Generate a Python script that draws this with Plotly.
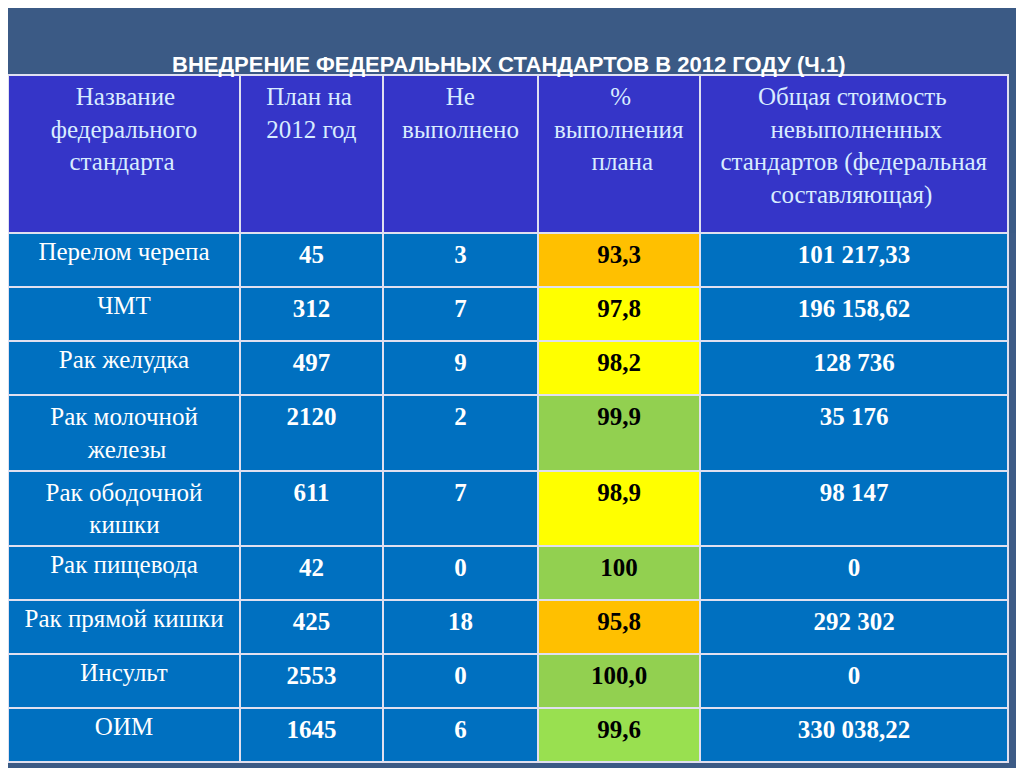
import plotly.graph_objects as go

S = "\u00a0"
headers = [S*4 + "Название<br>федерального<br>" + S*3 + "стандарта",
           "План на<br>2012 год",
           S*7 + "Не<br>выполнено",
           S*9 + "%<br>выполнения<br>" + S*6 + "плана",
           S*6 + "Общая стоимость<br>" + S*8 + "невыполненных<br>стандартов (федеральная<br>" + S*8 + "составляющая)"]
names = ["Перелом черепа", "ЧМТ", "Рак желудка", "Рак молочной<br>" + S*6 + "железы",
         "Рак ободочной<br>" + S*7 + "кишки",
         "Рак пищевода", "Рак прямой кишки", "Инсульт", "ОИМ"]
plan = ["45", "312", "497", "2120", "611", "42", "425", "2553", "1645"]
not_done = ["3", "7", "9", "2", "7", "0", "18", "0", "6"]
percent = ["93,3", "97,8", "98,2", "99,9", "98,9", "100", "95,8", "100,0", "99,6"]
cost = ["101 217,33", "196 158,62", "128 736", "35 176", "98 147", "0", "292 302", "0", "330 038,22"]
pct_colors = ["#FFC000", "#FFFF00", "#FFFF00", "#92D050", "#FFFF00", "#92D050", "#FFC000", "#92D050", "#99E050"]

blue = "#0070C0"
n = len(names)
fig = go.Figure(go.Table(
    domain=dict(x=[0, 1000/1024], y=[0, 701/768]),
    columnwidth=[232, 143, 155, 162, 308],
    header=dict(values=headers, fill_color="#3535C8", line=dict(color="#E0E0F0", width=2),
                align="center", height=158,
                font=dict(family="Liberation Serif", size=25, color="#D8ECFF")),
    cells=dict(values=[names, [f"<b>{v}</b>" for v in plan], [f"<b>{v}</b>" for v in not_done],
                       [f"<b>{v}</b>" for v in percent], [f"<b>{v}</b>" for v in cost]],
               fill_color=[[blue]*n, [blue]*n, [blue]*n, pct_colors, [blue]*n],
               line=dict(color="#E0E0F0", width=2), align="center", height=54,
               font=dict(family="Liberation Serif", size=25,
                         color=[["white"]*n, ["white"]*n, ["white"]*n, ["black"]*n, ["white"]*n]))
))
fig.update_layout(
    width=1024, height=768, margin=dict(l=0, r=0, t=0, b=0),
    paper_bgcolor="#3B5A85",
    annotations=[dict(text="<b>ВНЕДРЕНИЕ ФЕДЕРАЛЬНЫХ СТАНДАРТОВ В 2012 ГОДУ (Ч.1)</b>",
                      x=500/1024, y=1 - 42/768, xref="paper", yref="paper", showarrow=False,
                      font=dict(family="Liberation Sans", size=22, color="white"))]
)
fig.write_html("out.html")
